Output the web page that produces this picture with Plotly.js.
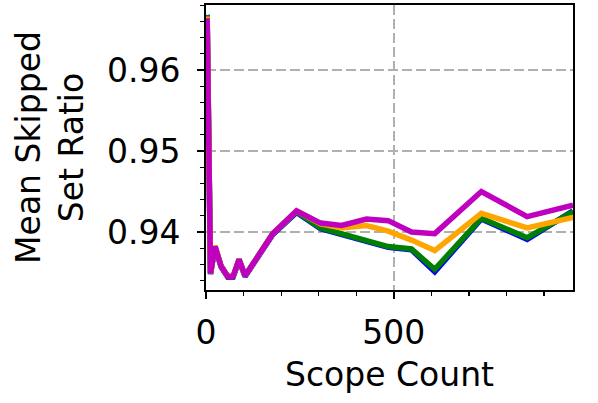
<!DOCTYPE html>
<html>
<head>
<meta charset="utf-8">
<script src="https://cdn.plot.ly/plotly-3.0.1.min.js"></script>
<style>html,body{margin:0;padding:0;background:#fff;}#chart{width:598px;height:403px;}</style>
</head>
<body>
<div id="chart"></div>
<script>
const scopeCount = [3, 12, 24, 40, 58, 72, 88, 104, 178, 241, 305, 361, 427, 485, 547, 609, 733, 855, 977];
const blueRatio = [0.9668, 0.9348, 0.9382, 0.9357, 0.9344, 0.9344, 0.9365, 0.9345, 0.9397, 0.9424, 0.9404, 0.9397, 0.9390, 0.9381, 0.9378, 0.9351, 0.9416, 0.9391, 0.9426];
const greenRatio = [0.9668, 0.9349, 0.9382, 0.9358, 0.9345, 0.9345, 0.9366, 0.9346, 0.9398, 0.9425, 0.9405, 0.9398, 0.9391, 0.9382, 0.9379, 0.9354, 0.9417, 0.9393, 0.9425];
const orangeRatio = [0.9666, 0.9349, 0.9383, 0.9358, 0.9345, 0.9345, 0.9366, 0.9346, 0.9398, 0.9426, 0.9410, 0.9405, 0.9408, 0.9401, 0.9390, 0.9377, 0.9423, 0.9405, 0.9418];
const magentaRatio = [0.9664, 0.9349, 0.9382, 0.9358, 0.9345, 0.9345, 0.9366, 0.9346, 0.9398, 0.9426, 0.9411, 0.9408, 0.9416, 0.9414, 0.9400, 0.9398, 0.9450, 0.9419, 0.9433];
const yTickVals = [0.94, 0.95, 0.96];
const yTickText = ['0.94', '0.95', '0.96'];
const xTickVals = [0, 500];
const xTickText = ['0', '500'];

const series = [
  {y: blueRatio, color: '#0000ff'},
  {y: greenRatio, color: '#008000'},
  {y: orangeRatio, color: '#ffa500'},
  {y: magentaRatio, color: '#bf00bf'}
];
const traces = series.map(s => ({
  x: scopeCount, y: s.y, type: 'scatter', mode: 'lines',
  line: {color: s.color, width: 5.5, shape: 'linear'},
  showlegend: false, hoverinfo: 'skip'
}));

const font = {family: 'DejaVu Sans, sans-serif', size: 33, color: '#000'};
const layout = {
  width: 598, height: 403,
  margin: {l: 206, r: 25, t: 5, b: 113},
  paper_bgcolor: '#fff', plot_bgcolor: '#fff',
  font: font,
  showlegend: false,
  xaxis: {
    range: [0, 977],
    tickmode: 'array', tickvals: xTickVals, ticktext: xTickText,
    ticks: 'outside', ticklen: 7, tickwidth: 1.5, tickcolor: '#000',
    ticklabelstandoff: 5,
    minor: {dtick: 100, tick0: 0, ticks: 'outside', ticklen: 4, tickwidth: 1.2, tickcolor: '#000', showgrid: false},
    showgrid: true, gridcolor: '#b0b0b0', gridwidth: 2.2, griddash: '10px,4px',
    showline: true, linecolor: '#000', linewidth: 2, mirror: true,
    zeroline: false,
    tickfont: font,
    title: {text: 'Scope Count', font: font, standoff: 12}
  },
  yaxis: {
    range: [0.93284, 0.96802],
    tickmode: 'array', tickvals: yTickVals, ticktext: yTickText,
    ticks: 'outside', ticklen: 7, tickwidth: 1.5, tickcolor: '#000',
    ticklabelstandoff: 10,
    minor: {dtick: 0.002, tick0: 0.94, ticks: 'outside', ticklen: 4, tickwidth: 1.2, tickcolor: '#000', showgrid: false},
    showgrid: true, gridcolor: '#b0b0b0', gridwidth: 2.2, griddash: '10px,4px',
    showline: true, linecolor: '#000', linewidth: 2, mirror: true,
    zeroline: false,
    tickfont: font,
    title: {text: 'Mean Skipped<br>Set Ratio', font: font, standoff: 13}
  }
};

Plotly.newPlot('chart', traces, layout, {staticPlot: true, displayModeBar: false});
</script>
</body>
</html>
